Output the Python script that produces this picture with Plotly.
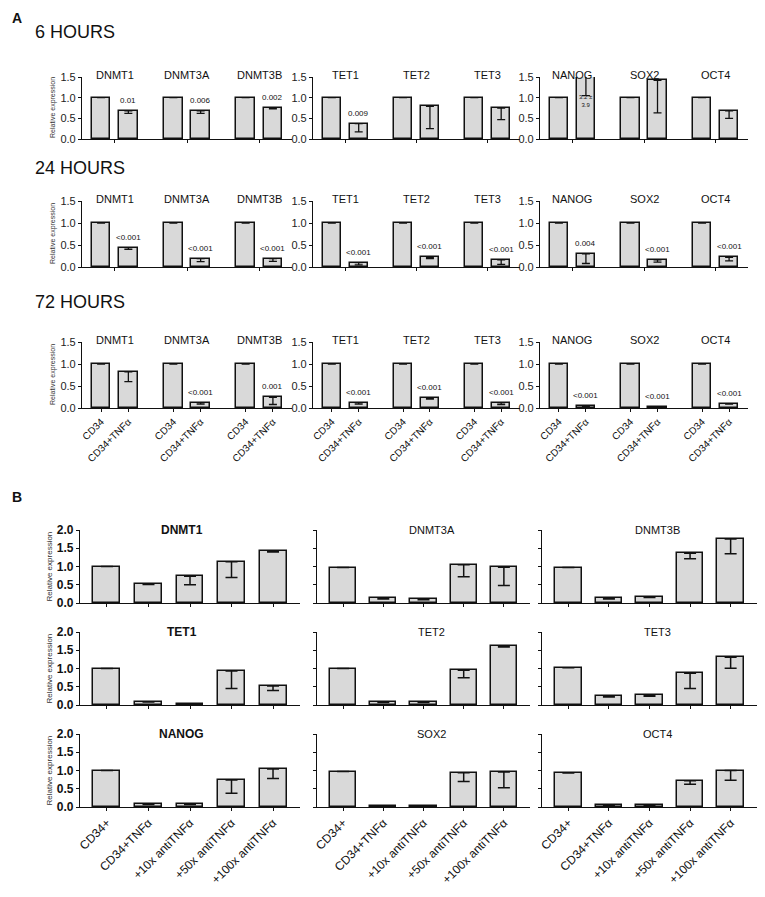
import plotly.graph_objects as go

# ---- panel A data (relative expression, CD34 control normalised to 1) ----
genes_a = ["DNMT1", "DNMT3A", "DNMT3B", "TET1", "TET2", "TET3", "NANOG", "SOX2", "OCT4"]
conds_a = ["CD34", "CD34+TNFα"]

ctrl_6h = [1.0, 1.0, 1.0, 1.0, 1.0, 1.0, 1.0, 1.0, 1.0]
tnf_6h = [0.68, 0.68, 0.76, 0.37, 0.79, 0.75, 3.2, 1.42, 0.68]
err_6h = [0.06, 0.06, 0.03, 0.20, 0.54, 0.28, 2.15, 0.79, 0.18]
p_6h = ["0.01", "0.006", "0.002", "0.009", "", "", "", "", ""]
note_6h = "3.2 ±<br>3.9"

ctrl_24h = [1.0, 1.0, 1.0, 1.0, 1.0, 1.0, 1.0, 1.0, 1.0]
tnf_24h = [0.44, 0.19, 0.19, 0.10, 0.22, 0.16, 0.30, 0.16, 0.22]
err_24h = [0.04, 0.07, 0.06, 0.05, 0.03, 0.10, 0.22, 0.05, 0.08]
p_24h = ["<0.001", "<0.001", "<0.001", "<0.001", "<0.001", "<0.001", "0.004", "<0.001", "<0.001"]

ctrl_72h = [1.0, 1.0, 1.0, 1.0, 1.0, 1.0, 1.0, 1.0, 1.0]
tnf_72h = [0.82, 0.12, 0.24, 0.12, 0.22, 0.12, 0.05, 0.02, 0.10]
err_72h = [0.22, 0.03, 0.16, 0.03, 0.02, 0.04, 0.01, 0.005, 0.01]
p_72h = ["", "<0.001", "0.001", "<0.001", "<0.001", "<0.001", "<0.001", "<0.001", "<0.001"]

ticks_a = [0.0, 0.5, 1.0, 1.5]

# ---- panel B data ----
conds_b = ["CD34+", "CD34+TNFα", "+10x antiTNFα", "+50x antiTNFα", "+100x antiTNFα"]
genes_b = ["DNMT1", "DNMT3A", "DNMT3B", "TET1", "TET2", "TET3", "NANOG", "SOX2", "OCT4"]

dnmt1_b = [1.0, 0.53, 0.73, 1.13, 1.43]
dnmt1_err = [0.0, 0.02, 0.23, 0.43, 0.03]
dnmt3a_b = [0.97, 0.13, 0.10, 1.05, 0.98]
dnmt3a_err = [0.0, 0.02, 0.01, 0.33, 0.50]
dnmt3b_b = [0.97, 0.13, 0.16, 1.36, 1.75]
dnmt3b_err = [0.0, 0.02, 0.01, 0.15, 0.40]
tet1_b = [1.0, 0.09, 0.03, 0.93, 0.52]
tet1_err = [0.0, 0.01, 0.01, 0.48, 0.12]
tet2_b = [1.0, 0.08, 0.08, 0.95, 1.62]
tet2_err = [0.0, 0.01, 0.01, 0.20, 0.03]
tet3_b = [1.02, 0.25, 0.27, 0.87, 1.31]
tet3_err = [0.0, 0.03, 0.03, 0.42, 0.30]
nanog_b = [1.0, 0.08, 0.08, 0.74, 1.04]
nanog_err = [0.0, 0.01, 0.01, 0.36, 0.26]
sox2_b = [0.97, 0.02, 0.02, 0.94, 0.96]
sox2_err = [0.0, 0.005, 0.005, 0.24, 0.43]
oct4_b = [0.93, 0.05, 0.05, 0.72, 1.0]
oct4_err = [0.0, 0.01, 0.01, 0.10, 0.27]
ticks_b = [0.0, 0.5, 1.0, 1.5, 2.0]

# page body has an 8px margin, so the figure is made 16px smaller and
# every position below is given in window pixels and shifted back
PAGE_W, PAGE_H, BODY = 765, 897, 8
W, H = PAGE_W - 2 * BODY, PAGE_H - 2 * BODY
FONT = "Liberation Sans, Arial, sans-serif"
BAR_FILL = "#d9d9d9"
INK = "#111111"


def px(p):
    return min(max((p - BODY) / W, 0), 1)


def py(p):
    return min(max(1 - (p - BODY) / H, 0), 1)


fig = go.Figure()
layout = {}
annotations = []
n = 0


def ax_names(n):
    s = "" if n == 1 else str(n)
    return "x" + s, "y" + s, "xaxis" + s, "yaxis" + s


def side_title(x, y, size):
    return dict(text="Relative expression", x=px(x), y=py(y), xref="paper", yref="paper",
                xanchor="center", yanchor="middle", textangle=-90, showarrow=False,
                font=dict(size=size, family=FONT, color="#333333"))


# ---------------- panel A ----------------
cols_a = [(82, 292), (313, 520), (540, 748)]
rows_a = [
    ("6 HOURS", ctrl_6h, tnf_6h, err_6h, p_6h, 32, 77, 139),
    ("24 HOURS", ctrl_24h, tnf_24h, err_24h, p_24h, 168, 201, 267),
    ("72 HOURS", ctrl_72h, tnf_72h, err_72h, p_72h, 302, 342, 408),
]
gap = 2.65

for r, (title, ctrl, tnf, err, pv, ty, top, bot) in enumerate(rows_a):
    annotations.append(dict(text=title, x=px(33), y=py(ty), xref="paper", yref="paper",
                            xanchor="left", yanchor="middle", showarrow=False,
                            font=dict(size=18, family=FONT, color=INK)))
    for k, (x0, x1) in enumerate(cols_a):
        n += 1
        xr, yr, xk, yk = ax_names(n)
        xs, ys, es, labels = [], [], [], []
        for j in range(3):
            g = k * 3 + j
            xs += [j * gap, j * gap + 1]
            ys += [ctrl[g], tnf[g]]
            es += [0, err[g]]
            labels += conds_a
            annotations.append(dict(text=genes_a[g], x=j * gap + 0.5, y=1.5, xref=xr, yref=yr,
                                    showarrow=False, xanchor="center", yanchor="middle", yshift=2,
                                    font=dict(size=11, family=FONT, color=INK)))
            if pv[g]:
                annotations.append(dict(text=pv[g], x=j * gap + 1, y=min(tnf[g], 1.5), xref=xr, yref=yr,
                                        showarrow=False, xanchor="center", yanchor="bottom", yshift=4,
                                        font=dict(size=8, family=FONT, color=INK)))
        if r == 0 and k == 2:
            annotations.append(dict(text=note_6h, x=1, y=0.92, xref=xr, yref=yr, showarrow=False,
                                    xanchor="center", yanchor="middle",
                                    font=dict(size=6, family=FONT, color=INK)))
        fig.add_trace(go.Bar(x=xs, y=ys, width=0.68, xaxis=xr, yaxis=yr,
                             marker=dict(color=BAR_FILL, line=dict(color=INK, width=1.5)),
                             error_y=dict(type="data", symmetric=False, array=[0] * len(es),
                                          arrayminus=es, color=INK, thickness=1.3, width=4)))
        if r == 2:
            xt = dict(tickvals=xs, ticktext=labels, tickangle=-45, showticklabels=True,
                      tickfont=dict(size=10, family=FONT, color=INK))
        else:
            xt = dict(tickvals=[j * gap + 0.5 for j in range(3)], showticklabels=False)
        layout[xk] = dict(domain=[px(x0), px(x1)], anchor=yr, range=[-0.7, 2 * gap + 1.7],
                          showline=True, linecolor=INK, linewidth=1.2, ticks="outside",
                          ticklen=3, tickcolor=INK, showgrid=False, zeroline=False,
                          automargin=False, **xt)
        layout[yk] = dict(domain=[py(bot), py(top)], anchor=xr, range=[0, 1.5],
                          tickvals=ticks_a, ticktext=["%.1f" % t for t in ticks_a],
                          showline=True, linecolor=INK, linewidth=1.2, ticks="outside",
                          ticklen=3, tickcolor=INK, showgrid=False, zeroline=False, automargin=False,
                          tickfont=dict(size=11, family=FONT, color="#222222"))
        if k == 0:
            annotations.append(side_title(53, (top + bot) / 2, 7))

annotations.append(dict(text="<b>A</b>", x=px(10), y=py(18), xref="paper", yref="paper",
                        xanchor="left", yanchor="middle", showarrow=False,
                        font=dict(size=14, family=FONT, color=INK)))
annotations.append(dict(text="<b>B</b>", x=px(10), y=py(497), xref="paper", yref="paper",
                        xanchor="left", yanchor="middle", showarrow=False,
                        font=dict(size=14, family=FONT, color=INK)))

# ---------------- panel B ----------------
cols_b = [(80, 300), (317, 530), (542, 757)]
rows_b = [(530, 603), (632, 705), (734, 807)]
vals_b = [dnmt1_b, dnmt3a_b, dnmt3b_b, tet1_b, tet2_b, tet3_b, nanog_b, sox2_b, oct4_b]
errs_b = [dnmt1_err, dnmt3a_err, dnmt3b_err, tet1_err, tet2_err, tet3_err, nanog_err, sox2_err, oct4_err]

for r, (top, bot) in enumerate(rows_b):
    for k, (x0, x1) in enumerate(cols_b):
        n += 1
        g = r * 3 + k
        xr, yr, xk, yk = ax_names(n)
        xs = list(range(len(conds_b)))
        fig.add_trace(go.Bar(x=xs, y=vals_b[g], width=0.65, xaxis=xr, yaxis=yr,
                             marker=dict(color=BAR_FILL, line=dict(color=INK, width=1.5)),
                             error_y=dict(type="data", symmetric=False, array=[0] * 5,
                                          arrayminus=errs_b[g], color=INK, thickness=1.5, width=6)))
        bold = k == 0
        annotations.append(dict(text=("<b>%s</b>" % genes_b[g]) if bold else genes_b[g],
                                x=1.8 if bold else 2.2, y=2.0, xref=xr, yref=yr, showarrow=False,
                                xanchor="center", yanchor="middle",
                                font=dict(size=12 if bold else 11, family=FONT, color=INK)))
        if r == 2:
            xt = dict(tickvals=xs, ticktext=conds_b, tickangle=-45, showticklabels=True,
                      tickfont=dict(size=12, family=FONT, color=INK))
        else:
            xt = dict(tickvals=xs, showticklabels=False)
        layout[xk] = dict(domain=[px(x0), px(x1)], anchor=yr, range=[-0.65, 4.65],
                          showline=True, linecolor=INK, linewidth=1.2, ticks="outside",
                          ticklen=3, tickcolor=INK, showgrid=False, zeroline=False,
                          automargin=False, **xt)
        layout[yk] = dict(domain=[py(bot), py(top)], anchor=xr, range=[0, 2.0],
                          tickvals=ticks_b, ticktext=["%.1f" % t for t in ticks_b],
                          showticklabels=k == 0, showline=True, linecolor=INK, linewidth=1.2,
                          ticks="outside", ticklen=3, tickcolor=INK, showgrid=False, zeroline=False,
                          automargin=False,
                          tickfont=dict(size=12, family=FONT, color=INK, weight="bold"))
        if k == 0:
            annotations.append(side_title(49, (top + bot) / 2, 8))

fig.update_layout(width=W, height=H,
                  margin=dict(l=0, r=0, t=0, b=0, pad=0, autoexpand=False),
                  paper_bgcolor="white", plot_bgcolor="white", showlegend=False,
                  bargap=0, annotations=annotations, **layout)

fig.write_html("out.html")
